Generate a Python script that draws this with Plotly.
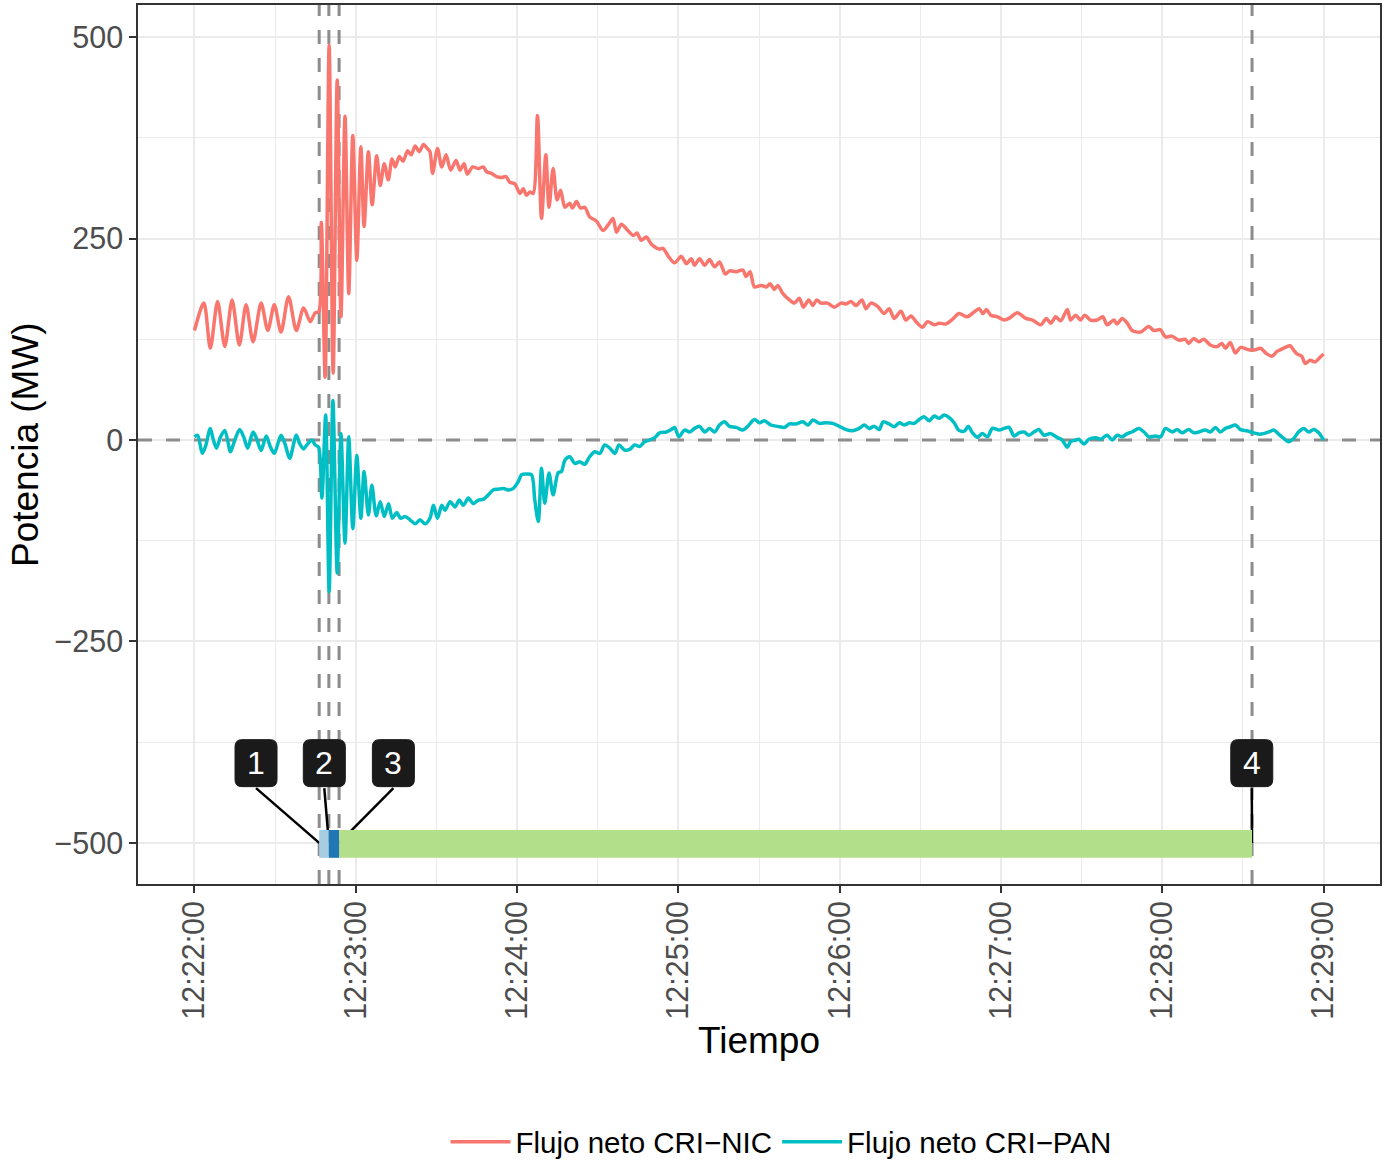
import datetime as dt
import pandas as pd
import plotly.graph_objects as go

# ---------------- data (seconds after 12:22:00, MW) ----------------
nic_samples = [
    (0, 136), (3.5, 170), (5.9, 114), (8.6, 172), (11.3, 116), (14.0, 174), (16.7, 118),
    (19.2, 168), (21.8, 122), (24.8, 170), (27.3, 136), (29.7, 168), (32.2, 134), (35.0, 178),
    (37.9, 136), (40.6, 164), (43.1, 147), (44.9, 158), (46.2, 159), (47.2, 270), (48.6, 78),
    (50.1, 490), (51.6, 83), (53.1, 447), (54.5, 153), (56.0, 402), (57.4, 182), (58.9, 378),
    (60.4, 223), (61.9, 364), (63.1, 265), (64.7, 358), (66.1, 292), (67.8, 353), (69.1, 316),
    (70.6, 343), (72.1, 323), (73.5, 349), (74.7, 339), (76.2, 352), (77.6, 346), (79.3, 359),
    (80.6, 354), (82.1, 365), (83.6, 358), (85.2, 367), (86.6, 362), (87.6, 358), (88.6, 331),
    (90.4, 362), (92.0, 339), (93.6, 354), (95.3, 335), (97.3, 347), (98.8, 335), (100.3, 343),
    (101.5, 330), (103.5, 339), (105.6, 337), (107.4, 339), (108.7, 333), (110.5, 331),
    (112.4, 327), (114.3, 326), (115.9, 327), (117.3, 320), (119.2, 318), (121.1, 306),
    (122.3, 312), (123.5, 304), (124.8, 308), (126.0, 306), (127.6, 403), (129.1, 275),
    (130.7, 354), (131.9, 289), (133.4, 337), (134.9, 298), (136.2, 310), (137.8, 289),
    (139.6, 294), (140.6, 288), (142.1, 296), (143.6, 288), (145.2, 289), (147.0, 277),
    (149.5, 272), (152.0, 260), (153.9, 267), (155.7, 275), (157.0, 258), (158.8, 268),
    (160.7, 262), (163.2, 254), (164.6, 257), (166.2, 248), (168.1, 252), (170.0, 243),
    (173.0, 237), (174.3, 238), (176.1, 229), (178.6, 220), (181.1, 228), (183.0, 219),
    (184.8, 225), (186.0, 217), (187.9, 225), (189.8, 217), (191.6, 224), (193.5, 215),
    (195.3, 221), (197.5, 206), (199.0, 210), (201.5, 209), (204.0, 211), (205.2, 203),
    (206.7, 209), (208.3, 190), (210.8, 192), (212.7, 190), (214.1, 194), (215.7, 187),
    (217.0, 192), (218.8, 182), (221.3, 174), (223.2, 170), (225.0, 176), (226.5, 165),
    (228.5, 174), (230.0, 167), (231.5, 174), (233.1, 170), (235.5, 170), (238.0, 165),
    (240.5, 170), (242.4, 169), (244.2, 172), (246.1, 167), (248.3, 174), (249.8, 163),
    (251.6, 170), (254.1, 166), (256.6, 157), (258.4, 163), (260.3, 151), (262.8, 160),
    (264.6, 149), (266.5, 154), (268.4, 147), (270.8, 140), (272.7, 147), (275.2, 143),
    (277.0, 145), (279.5, 144), (282.0, 150), (284.4, 157), (287.5, 153), (290.0, 159),
    (291.9, 163), (293.3, 157), (294.6, 162), (296.2, 155), (298.7, 153), (301.2, 149),
    (303.0, 151), (306.1, 158), (309.2, 151), (311.7, 149), (314.8, 143), (316.9, 151),
    (318.5, 145), (320.4, 153), (322.2, 148), (324.7, 162), (325.9, 149), (327.8, 155),
    (329.6, 149), (331.2, 155), (333.3, 149), (335.8, 149), (337.9, 153), (339.5, 143),
    (342.0, 149), (343.2, 144), (345.1, 151), (347.0, 145), (348.8, 136), (351.9, 134),
    (355.0, 141), (356.8, 136), (359.3, 137), (361.2, 128), (363.6, 129), (366.1, 124),
    (368.6, 125), (369.8, 120), (371.7, 126), (373.6, 122), (375.4, 125), (377.9, 118),
    (380.4, 116), (382.2, 120), (383.5, 114), (385.3, 121), (387.2, 108), (389.1, 115),
    (392.1, 112), (394.6, 112), (396.5, 114), (398.9, 107), (400.8, 104), (402.7, 110),
    (403.9, 112), (405.8, 115), (407.6, 117), (408.8, 112), (410.1, 107), (411.9, 104),
    (413.2, 95), (415.0, 99), (416.9, 97), (418.8, 103), (420.0, 107),
]

pan_samples = [
    (0, 4), (1.2, 6), (2.9, -16.5), (4.1, -8), (5.9, 14.5), (6.9, 2), (8.2, -10), (9.7, 4),
    (11.3, 12), (13.4, -14.5), (14.6, -4), (16.8, 13), (18.3, 4), (19.8, -10), (21.8, 10),
    (23.3, 0), (24.8, -13), (26.7, 5), (28.2, -8), (29.7, -16.5), (32.2, 6), (33.8, -6),
    (35.4, -22.7), (37.9, 6), (39.1, -4), (40.6, -11), (41.8, -6), (43.7, 0), (44.9, -6),
    (46.2, -9), (47.4, -72), (48.8, 31), (50.1, -188), (51.5, 49), (53.1, -165), (54.5, 8),
    (56.0, -128), (57.4, 4), (58.9, -110), (60.4, -19), (61.9, -97), (63.1, -39), (64.7, -93),
    (66.0, -56), (67.6, -94), (69.1, -76.5), (70.6, -95), (72.2, -79), (73.6, -97),
    (75.3, -90), (76.6, -97), (78.4, -95), (80.2, -99), (82.1, -104), (83.9, -99),
    (85.8, -104), (87.6, -97), (88.9, -81), (90.4, -97), (92.0, -81), (93.2, -87),
    (95.1, -76.5), (96.9, -83), (98.5, -74.5), (100.0, -81), (101.9, -72), (103.7, -79),
    (105.6, -74.5), (107.4, -73.6), (109.3, -68), (111.1, -62), (113.0, -61), (114.9, -60),
    (116.7, -62), (118.6, -60), (120.4, -52), (121.7, -43), (123.5, -42), (125.4, -43),
    (126.6, -74.5), (127.9, -101), (129.1, -35), (130.3, -78.5), (131.9, -41), (133.4, -68),
    (135.3, -40.5), (136.5, -39), (137.8, -25), (139.6, -20.7), (141.5, -29), (143.3, -27),
    (145.2, -30), (147.0, -20.7), (148.9, -14.5), (150.8, -16.5), (152.6, -6), (154.5, -10),
    (156.4, -16.5), (157.9, -6), (160.0, -12.4), (161.9, -11.5), (163.8, -6), (165.6, -8),
    (167.5, -2), (169.3, 0), (171.2, 3), (173.0, 9), (175.5, 10), (177.4, 13), (178.6, 15.7),
    (180.2, 4), (182.3, 12.4), (184.2, 10), (186.0, 14.5), (187.9, 17), (189.8, 10),
    (191.6, 14.5), (193.5, 10), (195.3, 18.6), (197.2, 22.7), (199.0, 17), (201.5, 15.7),
    (204.0, 12.4), (205.8, 17), (208.3, 25.6), (210.2, 21.5), (212.0, 24), (214.5, 18.6),
    (217.0, 17), (219.5, 15.7), (221.3, 20), (223.8, 20), (226.3, 22.7), (228.2, 18.6),
    (230.0, 24.8), (232.5, 20.7), (235.0, 21.5), (237.4, 20.7), (239.9, 17), (242.4, 13),
    (244.8, 11.5), (247.3, 14.5), (249.2, 18.6), (251.0, 14.5), (252.9, 17), (254.7, 13),
    (256.2, 22.7), (258.4, 20), (260.3, 16.5), (262.2, 21.5), (264.0, 18.6), (265.9, 21.5),
    (267.7, 20.7), (269.6, 25.6), (271.4, 29), (273.3, 24), (275.2, 29.8), (277.0, 27),
    (278.9, 31), (280.7, 28), (282.6, 21.5), (284.4, 12), (286.3, 11), (287.9, 17),
    (289.4, 9), (291.2, 3.5), (293.1, 8), (295.0, 4), (296.8, 14.5), (299.3, 12.4),
    (301.2, 14.5), (303.0, 15.7), (304.9, 5), (306.7, 9), (308.6, 10), (310.4, 6),
    (312.3, 10), (314.1, 13), (316.0, 6), (318.5, 8), (321.0, 3), (322.8, 0), (324.7, -9),
    (325.9, -2), (327.8, 0), (329.0, 1), (330.9, -5), (332.7, 1), (335.2, 3), (337.1, 1),
    (339.5, 6), (341.4, 0), (343.2, 6), (345.1, 4), (347.0, 8), (348.8, 10), (351.3, 14.5),
    (353.2, 10), (355.0, 4), (357.5, 5), (359.4, 4), (361.2, 14.5), (363.7, 10), (365.5, 13),
    (367.4, 9), (369.8, 13), (371.7, 9), (373.6, 10), (376.0, 12.4), (377.9, 10),
    (379.8, 15.7), (381.6, 10), (383.5, 14.5), (385.3, 16.5), (387.2, 18.6), (389.1, 13),
    (391.5, 11.5), (394.0, 9), (395.9, 7.4), (397.7, 8), (399.6, 10), (401.5, 12.4),
    (403.3, 7.4), (405.2, 2), (407.0, -2), (408.9, 2), (410.7, 10), (412.6, 14.5),
    (414.5, 10), (416.3, 13), (418.2, 9), (420.0, 0),
]

series_names = ["Flujo neto CRI\u2212NIC", "Flujo neto CRI\u2212PAN"]
series_colors = ["#F8766D", "#00BFC4"]

# event markers (seconds after 12:22:00)
event_t = [46.4, 50.0, 53.8, 393.4]
event_labels = ["1", "2", "3", "4"]
label_t = [22.9, 48.3, 74.0, 393.3]
label_v = -401
event_v = -500

# phases shown as a band at -500
phase_start = [46.4, 50.0, 53.8]
phase_end = [50.0, 53.8, 393.4]
phase_colors = ["#A6CEE3", "#1F78B4", "#B2DF8A"]
band_low, band_high = -518.5, -484

x_limits = [-21, 441]
y_limits = [-551, 540]
y_ticks = [-500, -250, 0, 250, 500]
y_ticktext = ["\u2212500", "\u2212250", "0", "250", "500"]

# ---------------- figure ----------------
base = dt.datetime(2024, 1, 1, 12, 22, 0)


def ts(sec):
    return pd.Timestamp(base) + pd.to_timedelta(sec, unit="s")


FONT = "Liberation Sans, Arial, Helvetica, sans-serif"
DASH = dict(color="#8C8C8C", width=3, dash="14px,14px")
fig = go.Figure()

# dashed reference lines (below data)
fig.add_trace(go.Scatter(x=[ts(x_limits[0]), ts(x_limits[1])], y=[0, 0], mode="lines",
                         line=DASH, showlegend=False, hoverinfo="skip"))
for et in event_t:
    fig.add_trace(go.Scatter(x=[ts(et), ts(et)], y=y_limits, mode="lines",
                             line=DASH, showlegend=False, hoverinfo="skip"))

for samples, name, color in zip([nic_samples, pan_samples], series_names, series_colors):
    t = [ts(s) for s, _ in samples]
    v = [val for _, val in samples]
    fig.add_trace(go.Scatter(x=t, y=v, mode="lines", name=name,
                             line=dict(color=color, width=3.5, shape="spline", smoothing=0.8),
                             hoverinfo="skip"))

# connector lines (below the band)
for lt, et in zip(label_t, event_t):
    fig.add_trace(go.Scatter(x=[ts(lt), ts(et)], y=[label_v - 31, event_v], mode="lines",
                             line=dict(color="black", width=2.5), showlegend=False,
                             hoverinfo="skip"))

shapes = []
for s0, s1, c in zip(phase_start, phase_end, phase_colors):
    shapes.append(dict(type="rect", xref="x", yref="y", x0=ts(s0), x1=ts(s1),
                       y0=band_low, y1=band_high, fillcolor=c, line=dict(width=0),
                       layer="above"))


def rounded_path(w, h, r):
    x0, x1, y0, y1 = -w / 2, w / 2, -h / 2, h / 2
    return (f"M {x0 + r},{y0} L {x1 - r},{y0} Q {x1},{y0} {x1},{y0 + r} "
            f"L {x1},{y1 - r} Q {x1},{y1} {x1 - r},{y1} L {x0 + r},{y1} "
            f"Q {x0},{y1} {x0},{y1 - r} L {x0},{y0 + r} Q {x0},{y0} {x0 + r},{y0} Z")


annotations = []
for lt, lab in zip(label_t, event_labels):
    shapes.append(dict(type="path", xref="x", yref="y", xsizemode="pixel", ysizemode="pixel",
                       xanchor=ts(lt), yanchor=label_v, path=rounded_path(42, 47, 7),
                       fillcolor="#1A1A1A", line=dict(color="#1A1A1A", width=1), layer="above"))
    annotations.append(dict(x=ts(lt), y=label_v, xref="x", yref="y", text=lab, showarrow=False,
                            font=dict(family=FONT, size=32, color="white"),
                            xanchor="center", yanchor="middle"))

# axis titles
annotations.append(dict(x=(759 - 138) / 1242, y=(884 - 1040) / 879, xref="paper", yref="paper",
                        text="Tiempo", showarrow=False, xanchor="center", yanchor="middle",
                        font=dict(family=FONT, size=37, color="black")))
annotations.append(dict(x=(25 - 138) / 1242, y=(884 - 445) / 879, xref="paper", yref="paper",
                        text="Potencia (MW)", showarrow=False, textangle=-90,
                        xanchor="center", yanchor="middle",
                        font=dict(family=FONT, size=37, color="black")))

fig.update_layout(
    width=1385, height=1162,
    margin=dict(l=138, r=5, t=5, b=278, autoexpand=False),
    paper_bgcolor="white", plot_bgcolor="white",
    font=dict(family=FONT, color="black"),
    shapes=shapes, annotations=annotations,
    showlegend=True,
    legend=dict(orientation="h", x=(781 - 138) / 1242, xanchor="center",
                y=(884 - 1142) / 879, yanchor="middle",
                font=dict(family=FONT, size=29.5, color="black"),
                bgcolor="rgba(0,0,0,0)", itemwidth=60, tracegroupgap=0),
)

fig.update_xaxes(
    type="date", range=[ts(x_limits[0]), ts(x_limits[1])],
    tick0=ts(0), dtick=60000, tickformat="%H:%M:%S", tickangle=-90,
    tickfont=dict(family=FONT, size=30.5, color="#4D4D4D"),
    ticks="outside", ticklen=7, tickwidth=1.5, tickcolor="#333333",
    ticklabelstandoff=-4,
    showgrid=True, gridcolor="#EBEBEB", gridwidth=2,
    minor=dict(dtick=30000, tick0=ts(0), showgrid=True, gridcolor="#EBEBEB", gridwidth=1),
    showline=True, linecolor="#333333", linewidth=1.5, mirror=True,
    zeroline=False, automargin=False,
)
fig.update_yaxes(
    range=y_limits, tickvals=y_ticks, ticktext=y_ticktext,
    tickfont=dict(family=FONT, size=30.5, color="#4D4D4D"),
    ticks="outside", ticklen=7, tickwidth=1.5, tickcolor="#333333",
    showgrid=True, gridcolor="#EBEBEB", gridwidth=2,
    minor=dict(tickvals=[-375, -125, 125, 375], showgrid=True, gridcolor="#EBEBEB", gridwidth=1),
    showline=True, linecolor="#333333", linewidth=1.5, mirror=True,
    zeroline=False, automargin=False,
)

fig.write_html("out.html", config={"displayModeBar": False},
               post_script="document.body.style.margin='0px';")
